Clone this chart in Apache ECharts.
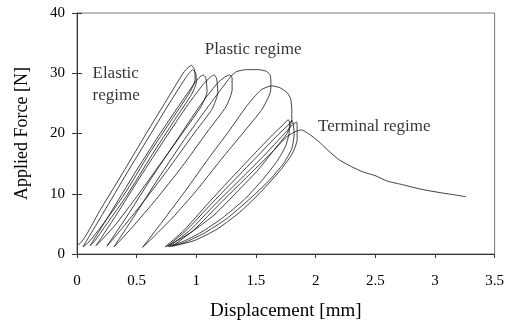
<!DOCTYPE html>
<html><head><meta charset="utf-8">
<script src="https://cdn.jsdelivr.net/npm/echarts@6/dist/echarts.min.js"></script>
<style>html,body{margin:0;padding:0;background:#fff}#c{width:507px;height:326px}</style>
</head><body><div id="c"></div>
<script>
// Axis ticks
var xTicks = [0, 0.5, 1, 1.5, 2, 2.5, 3, 3.5];
var yTicks = [0, 10, 20, 30, 40];

// Loading / unloading cycles [displacement mm, force N]
var elastic1 = [[0.0,1.8],[0.01,1.6],[0.20,7.5],[0.40,14],[0.58,20],[0.75,25.5],[0.90,30.3],[0.96,31.3],
  [0.985,30.6],[0.99,29],[0.95,27],[0.80,22.5],[0.60,16.5],[0.40,10],[0.22,5],[0.10,2],[0.05,1.2]];
var elastic2 = [[0.05,1.2],[0.22,6.8],[0.42,13.5],[0.62,20],[0.78,25.2],[0.92,29.5],[0.97,30.6],
  [0.995,30],[1.0,28.5],[0.96,26.5],[0.82,22.3],[0.62,16.2],[0.42,9.8],[0.25,5],[0.15,2.2],[0.11,1.4]];
var elastic3 = [[0.11,1.4],[0.28,6.8],[0.48,13.3],[0.68,19.5],[0.86,24.8],[0.98,28.2],[1.03,29.4],[1.06,29.7],
  [1.08,29.2],[1.09,27],[1.04,24.5],[0.90,20.5],[0.70,15],[0.50,9.5],[0.32,4.8],[0.20,2.2],[0.16,1.4]];
var elastic4 = [[0.16,1.4],[0.33,6.5],[0.53,12.8],[0.74,19.2],[0.93,24.8],[1.06,28.2],[1.12,29.4],[1.15,29.7],
  [1.17,29.1],[1.18,26.8],[1.13,24],[0.98,20],[0.78,14.5],[0.57,9],[0.40,4.8],[0.29,2.2],[0.25,1.3]];
var elastic5 = [[0.25,1.3],[0.42,6.3],[0.62,12.5],[0.84,19],[1.03,24.6],[1.17,28.2],[1.24,29.4],[1.28,29.7],
  [1.30,29.2],[1.30,27.3],[1.25,24.5],[1.10,20.5],[0.88,14.5],[0.66,9],[0.47,4.6],[0.36,2.2],[0.31,1.2]];
var plastic1 = [[0.31,1.2],[0.48,6.3],[0.68,12.5],[0.90,19],[1.10,24.5],[1.24,28.2],[1.30,29.7],[1.34,30.3],
  [1.42,30.6],[1.52,30.6],[1.59,30.3],[1.62,29.6],[1.625,28.3],[1.62,26.8],[1.55,24],[1.40,20.3],
  [1.20,15.5],[1.00,10.5],[0.80,6],[0.65,3],[0.55,1.1]];
var plastic2 = [[0.55,1.1],[0.72,5.5],[0.92,10.8],[1.10,15.8],[1.27,20.3],[1.42,24.5],[1.54,27.2],[1.63,27.9],
  [1.70,27.6],[1.76,26.8],[1.79,25.8],[1.80,24],[1.80,22.3],[1.76,20],[1.66,17.5],[1.52,14],[1.35,10.5],
  [1.15,6.5],[0.95,3.5],[0.82,2],[0.74,1.2]];
var terminal1 = [[0.74,1.2],[0.90,4],[1.08,8],[1.28,12.3],[1.48,16.5],[1.64,19.8],[1.74,21.7],[1.77,22.3],[1.78,21.9],
  [1.78,20.5],[1.75,18],[1.68,15.5],[1.55,12.2],[1.40,9],[1.22,6],[1.04,3.6],[0.88,2],[0.76,1.3]];
var terminal2 = [[0.76,1.3],[0.92,4],[1.12,8.2],[1.32,12.3],[1.52,16.4],[1.68,19.7],[1.78,21.6],[1.80,22.2],[1.81,21.8],
  [1.82,20],[1.80,17.5],[1.73,15],[1.60,12],[1.44,9],[1.25,5.8],[1.06,3.4],[0.90,1.9],[0.77,1.2]];
var terminal3 = [[0.77,1.2],[0.95,4],[1.16,8.3],[1.38,12.6],[1.58,16.6],[1.73,19.8],[1.81,21.5],[1.84,21.9],
  [1.845,20.5],[1.845,19.0],[1.80,16.5],[1.70,13.8],[1.55,10.5],[1.38,7.2],[1.18,4.2],[0.98,2.2],[0.80,1.3]];
var failure = [[0.80,1.3],[0.98,4],[1.20,8.4],[1.42,12.7],[1.62,16.6],[1.76,19.5],[1.84,20.4],[1.88,20.6],
  [1.93,20.1],[1.98,19.4],[2.04,18.4],[2.12,16.9],[2.20,15.6],[2.30,14.5],[2.40,13.6],[2.50,13.0],
  [2.60,12.1],[2.73,11.5],[2.85,10.9],[2.95,10.5],[3.07,10.1],[3.17,9.8],[3.26,9.5]];

// Annotations [x, y, text]
var notes = [[0.13, 28.2, 'Elastic\nregime'], [1.07, 33.9, 'Plastic regime'], [2.02, 21.2, 'Terminal regime']];

var curves = [elastic1, elastic2, elastic3, elastic4, elastic5, plastic1, plastic2, terminal1, terminal2, terminal3, failure];

var FONT = 'Liberation Serif';
var chart = echarts.init(document.getElementById('c'), null, {renderer: 'canvas'});
var series = curves.map(function (d) {
  return {type: 'line', data: d, showSymbol: false, symbol: 'none', smooth: 0.2,
    lineStyle: {color: '#111', width: 0.8}, silent: true, animation: false};
});
series.push({type: 'scatter', data: notes.map(function (n) { return [n[0], n[1]]; }), symbolSize: 0,
  label: {show: true, position: 'right', distance: 0, color: '#000', fontFamily: FONT, fontSize: 17, lineHeight: 22,
    formatter: function (p) { return notes[p.dataIndex][2]; }}, animation: false, silent: true});

var xBase = {type: 'value', min: xTicks[0], max: xTicks[xTicks.length - 1], interval: 0.5};
var yBase = {type: 'value', min: yTicks[0], max: yTicks[yTicks.length - 1], interval: 10};
chart.setOption({
  animation: false,
  grid: {left: 77, right: 12, top: 13, bottom: 72, show: true, borderColor: '#777', borderWidth: 1},
  xAxis: [Object.assign({}, xBase, {
    name: 'Displacement [mm]', nameLocation: 'middle', nameGap: 48,
    nameTextStyle: {fontFamily: FONT, fontSize: 19, color: '#000'},
    axisLine: {lineStyle: {color: '#333'}}, axisTick: {length: 4, lineStyle: {color: '#333'}},
    axisLabel: {fontFamily: FONT, fontSize: 15, color: '#000', margin: 20,
      formatter: function (v) { return String(v); }},
    splitLine: {show: false}}),
    Object.assign({}, xBase, {axisLine: {show: false}, axisTick: {inside: true, length: 4, lineStyle: {color: '#333'}},
      axisLabel: {show: false}, splitLine: {show: false}})],
  yAxis: [Object.assign({}, yBase, {
    name: 'Applied Force [N]', nameLocation: 'middle', nameGap: 46,
    nameTextStyle: {fontFamily: FONT, fontSize: 18, color: '#000'},
    axisLine: {show: true, lineStyle: {color: '#333'}}, axisTick: {show: true, length: 5, lineStyle: {color: '#333'}},
    axisLabel: {fontFamily: FONT, fontSize: 15, color: '#000', margin: 12},
    splitLine: {show: false}}),
    Object.assign({}, yBase, {position: 'left', axisLine: {show: false}, axisTick: {show: true, inside: true, length: 5, lineStyle: {color: '#333'}},
      axisLabel: {show: false}, splitLine: {show: false}})],
  series: series
});
</script></body></html>
